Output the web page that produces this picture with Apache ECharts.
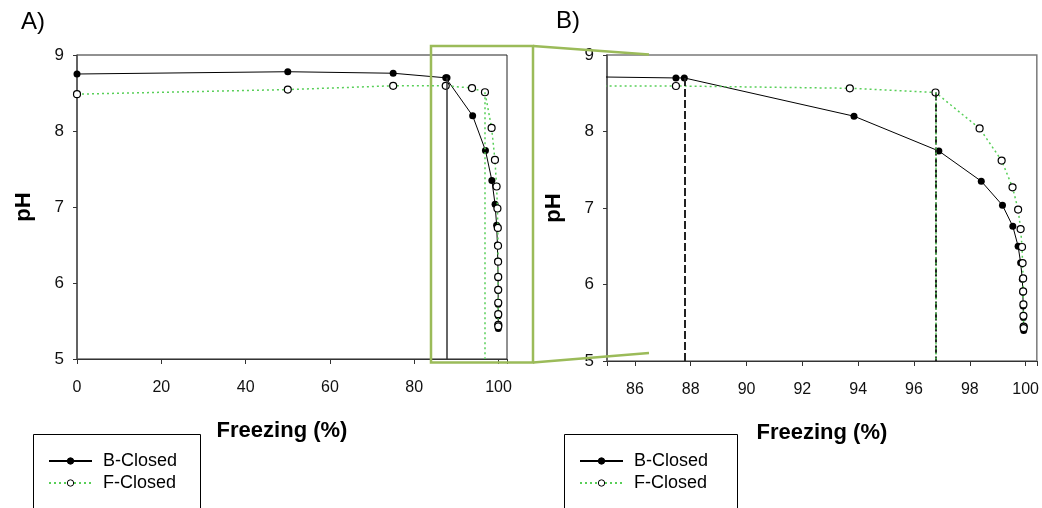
<!DOCTYPE html>
<html>
<head>
<meta charset="utf-8">
<script src="https://cdn.jsdelivr.net/npm/echarts@6/dist/echarts.min.js"></script>
<style>
  html, body { margin: 0; padding: 0; background: #fff; }
  #chart { width: 1042px; height: 508px; }
</style>
</head>
<body>
<div id="chart"></div>
<script>
// Freezing fraction (%) against pH for the two closed setups
const bFreezing = [0, 50, 75, 87.47, 87.77, 93.85, 96.89, 98.41, 99.17, 99.54, 99.73, 99.82, 99.88, 99.9, 99.91, 99.92, 99.93, 99.93];
const bPH       = [8.75, 8.78, 8.76, 8.70, 8.70, 8.20, 7.745, 7.35, 7.035, 6.76, 6.50, 6.285, 6.07, 5.90, 5.72, 5.57, 5.45, 5.40];
const fFreezing = [0, 50, 75, 87.47, 93.7, 96.77, 98.35, 99.14, 99.53, 99.73, 99.82, 99.87, 99.89, 99.91, 99.91, 99.92, 99.92, 99.93, 99.93];
const fPH       = [8.485, 8.545, 8.595, 8.595, 8.565, 8.51, 8.04, 7.62, 7.27, 6.98, 6.725, 6.49, 6.28, 6.08, 5.91, 5.74, 5.59, 5.45, 5.43];

// index of the point where each curve starts to drop (vertical guide lines)
const bOnset = 4;
const fOnset = 5;

const seriesNames = ['B-Closed', 'F-Closed'];
const xTicksA = [0, 20, 40, 60, 80, 100];
const xTicksB = [86, 88, 90, 92, 94, 96, 98, 100];
const yTicks  = [5, 6, 7, 8, 9];
const yMin = yTicks[0], yMax = yTicks[yTicks.length - 1];

const FONT = '"Liberation Sans", Arial, sans-serif';
const GREEN = '#58cf58';
const pairs = (xs, ys) => xs.map((x, i) => [x, ys[i]]);

const chart = echarts.init(document.getElementById('chart'), null, { renderer: 'canvas' });

function xAxis(grid, min, max, ticks, extra) {
  return Object.assign({
    gridIndex: grid, type: 'value', min: min, max: max,
    axisLine: { show: true, onZero: false, lineStyle: { color: '#333', width: 1 } },
    axisTick: { show: true, inside: false, length: 5, lineStyle: { color: '#333' } },
    axisLabel: {
      margin: 21, fontSize: 16, color: '#111', fontFamily: FONT,
      formatter: v => ticks.includes(Math.round(v * 1000) / 1000) ? String(v) : ''
    },
    splitLine: { show: false },
    name: 'Freezing (%)', nameLocation: 'middle', nameGap: 61,
    nameTextStyle: { fontSize: 22, fontWeight: 'bold', color: '#000', fontFamily: FONT }
  }, extra);
}

function yAxis(grid) {
  return {
    gridIndex: grid, type: 'value', min: yMin, max: yMax, interval: 1,
    axisLine: { show: true, lineStyle: { color: '#555', width: 1.5 } },
    axisTick: { show: true, inside: false, length: 4, lineStyle: { color: '#333' } },
    axisLabel: { margin: 13, fontSize: 17, color: '#111', fontFamily: FONT, padding: [4, 0, 0, 0] },
    splitLine: { show: false },
    name: 'pH', nameLocation: 'middle', nameRotate: 90, nameGap: 42,
    nameTextStyle: { fontSize: 22, fontWeight: 'bold', color: '#000', fontFamily: FONT }
  };
}

function vGuide(x, y, style) {
  return [{ coord: [x, y], lineStyle: style }, { coord: [x, yMin] }];
}

function bSeries(grid, guides) {
  return {
    type: 'line', name: seriesNames[0], xAxisIndex: grid, yAxisIndex: grid,
    data: pairs(bFreezing, bPH), clip: true,
    symbol: 'circle', symbolSize: 7, showSymbol: true,
    itemStyle: { color: '#000', borderColor: '#000', borderWidth: 0 },
    lineStyle: { color: '#000', width: 1 },
    emphasis: { disabled: true }, animation: false, z: 3,
    markLine: { silent: true, symbol: ['none', 'none'], label: { show: false }, animation: false, data: guides }
  };
}

function fSeries(grid, guides) {
  return {
    type: 'line', name: seriesNames[1], xAxisIndex: grid, yAxisIndex: grid,
    data: pairs(fFreezing, fPH), clip: true,
    symbol: 'circle', symbolSize: 7, showSymbol: true,
    itemStyle: { color: '#fff', borderColor: '#000', borderWidth: 1.2 },
    lineStyle: { color: GREEN, width: 1.5, type: [2, 3] },
    emphasis: { disabled: true }, animation: false, z: 4,
    markLine: { silent: true, symbol: ['none', 'none'], label: { show: false }, animation: false, data: guides }
  };
}

const solidGuide  = { color: '#333', width: 1.5, type: 'solid' };
const dashedGuide = { color: '#222', width: 2, type: [8, 3] };
const dottedGuide = { color: GREEN, width: 1.5, type: [2, 3] };

function legend(left) {
  return {
    left: left, top: 452, orient: 'vertical', padding: 0,
    itemWidth: 43, itemHeight: 8, itemGap: 4, selectedMode: false,
    itemStyle: { borderWidth: 1 },
    textStyle: { fontSize: 18, color: '#000', fontFamily: FONT, padding: [0, 0, 0, 6] },
    data: seriesNames
  };
}

const option = {
  backgroundColor: '#fff',
  animation: false,
  grid: [
    { left: 77, top: 55, width: 430, height: 304, show: true, borderColor: '#222', borderWidth: 1, backgroundColor: 'transparent' },
    { left: 607, top: 55, width: 430, height: 306, show: true, borderColor: '#7a7a7a', borderWidth: 1.5, backgroundColor: 'transparent' }
  ],
  xAxis: [
    xAxis(0, 0, 102, xTicksA, { interval: 20, nameTextStyle: { fontSize: 22, fontWeight: 'bold', color: '#000', fontFamily: FONT, padding: [0, 20, 0, 0] } }),
    xAxis(1, 85, 100.4, xTicksB, { minInterval: 2, maxInterval: 2, splitNumber: 8 })
  ],
  yAxis: [yAxis(0), yAxis(1)],
  legend: [legend(48), legend(579)],
  series: [
    bSeries(0, [vGuide(bFreezing[bOnset], bPH[bOnset], solidGuide)]),
    fSeries(0, [vGuide(fFreezing[fOnset], fPH[fOnset], dottedGuide)]),
    bSeries(1, [vGuide(bFreezing[bOnset], bPH[bOnset], dashedGuide)]),
    fSeries(1, [vGuide(fFreezing[fOnset], fPH[fOnset], dashedGuide), vGuide(fFreezing[fOnset], fPH[fOnset], dottedGuide)])
  ],
  graphic: [
    { type: 'text', left: 21, top: 10, style: { text: 'A)', font: '24px ' + FONT, fill: '#000' } },
    { type: 'text', left: 556, top: 9, style: { text: 'B)', font: '24px ' + FONT, fill: '#000' } },
    // legend frames
    { type: 'rect', shape: { x: 33.5, y: 434.5, width: 167, height: 120 }, style: { fill: 'none', stroke: '#000', lineWidth: 1 }, z: 1 },
    { type: 'rect', shape: { x: 564.5, y: 434.5, width: 173, height: 120 }, style: { fill: 'none', stroke: '#000', lineWidth: 1 }, z: 1 },
    // zoom callout linking the two panels
    { type: 'rect', shape: { x: 431, y: 46, width: 102, height: 316.5 }, style: { fill: 'none', stroke: '#9bbb59', lineWidth: 2.5 }, z: 100 },
    { type: 'line', shape: { x1: 533, y1: 46, x2: 649, y2: 54.5 }, style: { stroke: '#9bbb59', lineWidth: 2.5 }, z: 100 },
    { type: 'line', shape: { x1: 533, y1: 362.5, x2: 649, y2: 353 }, style: { stroke: '#9bbb59', lineWidth: 2.5 }, z: 100 }
  ]
};

chart.setOption(option);
</script>
</body>
</html>
